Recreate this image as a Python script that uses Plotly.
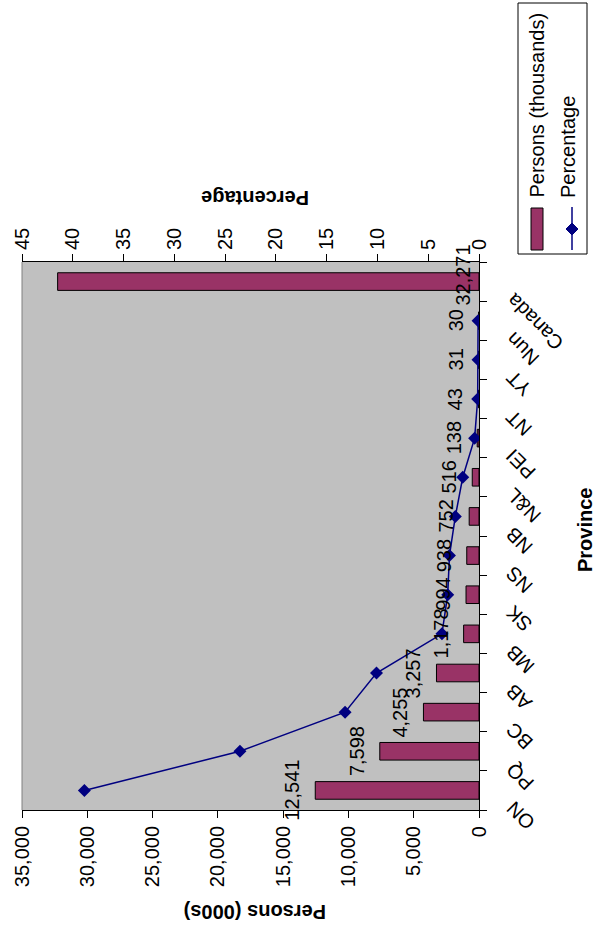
import plotly.graph_objects as go

provinces = ["ON", "PQ", "BC", "AB", "MB", "SK", "NS", "NB", "N&L", "PEI", "NT", "YT", "Nun", "Canada"]
persons = [12541, 7598, 4255, 3257, 1178, 994, 938, 752, 516, 138, 43, 31, 30, 32271]
percentage = [38.86, 23.54, 13.19, 10.09, 3.65, 3.08, 2.91, 2.33, 1.60, 0.43, 0.13, 0.10, 0.09]
persons_ticks = [0, 5000, 10000, 15000, 20000, 25000, 30000, 35000]
pct_ticks = [0, 5, 10, 15, 20, 25, 30, 35, 40, 45]

# page body margin is removed (post_script), so figure pixels == page pixels
W, H = 599, 932
L, T = 22, 262
R = W - 479
B = H - 810
pw = W - L - R
ph = H - T - B


def px(x):
    return (x - L) / pw


def py(y):
    return (H - B - y) / ph


FONT = "Liberation Sans, Arial, sans-serif"
BAR = "#993366"
NAVY = "#000080"

fig = go.Figure()
fig.add_trace(go.Bar(
    x=persons, y=provinces, orientation="h", xaxis="x", yaxis="y",
    marker=dict(color=BAR, line=dict(color="black", width=1)),
    width=0.45, name="Persons (thousands)", hoverinfo="x+y",
))
fig.add_trace(go.Scatter(
    x=percentage, y=provinces[:len(percentage)], xaxis="x2", yaxis="y",
    mode="lines+markers", line=dict(color=NAVY, width=1.5),
    marker=dict(symbol="diamond", size=10, color=NAVY),
    name="Percentage",
))


def txt(**kw):
    d = dict(showarrow=False, font=dict(size=20, color="black", family=FONT))
    d.update(kw)
    return d


ann = []
# bar value labels
for p, v in zip(provinces, persons):
    if p == "Canada":
        ann.append(txt(x=0, y=p, xref="x", yref="y", text=f"{v:,}", textangle=-90,
                       xanchor="right", yanchor="middle", xshift=-3, yshift=6))
    else:
        ann.append(txt(x=v, y=p, xref="x", yref="y", text=f"{v:,}", textangle=-90,
                       xanchor="right", yanchor="middle", xshift=-10))
# category labels
for p in provinces:
    ann.append(txt(x=px(499), y=p, xref="paper", yref="y", text=p, textangle=-135,
                   xanchor="left", yanchor="top", yshift=-4))
# axis titles
ann.append(txt(x=px(255), y=py(912), xref="paper", yref="paper", text="<b>Persons (000s)</b>",
               textangle=180, xanchor="center", yanchor="middle"))
ann.append(txt(x=px(255), y=py(198), xref="paper", yref="paper", text="<b>Percentage</b>",
               textangle=180, xanchor="center", yanchor="middle"))
ann.append(txt(x=px(585), y=py(530), xref="paper", yref="paper", text="<b>Province</b>",
               textangle=-90, xanchor="center", yanchor="middle"))
# legend texts
ann.append(txt(x=px(536), y=py(200), xref="paper", yref="paper", text="Persons (thousands)",
               textangle=-90, xanchor="center", yanchor="bottom"))
ann.append(txt(x=px(568), y=py(200), xref="paper", yref="paper", text="Percentage",
               textangle=-90, xanchor="center", yanchor="bottom"))

shapes = [
    # left plot border
    dict(type="line", xref="paper", yref="paper", x0=0, x1=0, y0=0, y1=1,
         line=dict(color="#808080", width=1)),
    # legend box
    dict(type="rect", xref="paper", yref="paper", x0=px(518), x1=px(587), y0=py(254), y1=py(3),
         line=dict(color="black", width=1), fillcolor="white"),
    # bar swatch
    dict(type="rect", xref="paper", yref="paper", x0=px(531), x1=px(543), y0=py(250), y1=py(208),
         line=dict(color="black", width=1), fillcolor=BAR),
    # line swatch
    dict(type="line", xref="paper", yref="paper", x0=px(572), x1=px(572), y0=py(250), y1=py(207),
         line=dict(color=NAVY, width=1.5)),
    dict(type="path", xref="paper", yref="paper",
         path=f"M {px(572)},{py(223)} L {px(578)},{py(229)} L {px(572)},{py(235)} L {px(566)},{py(229)} Z",
         fillcolor=NAVY, line=dict(color=NAVY, width=1)),
]

fig.update_layout(
    width=W, height=H, autosize=False,
    margin=dict(l=L, r=R, t=T, b=B, pad=0, autoexpand=False),
    paper_bgcolor="white", plot_bgcolor="#C0C0C0",
    showlegend=False,
    font=dict(family=FONT, size=20, color="black"),
    xaxis=dict(range=[35000, 0], tickvals=persons_ticks, tickformat=",", tickangle=-90,
               showgrid=False, zeroline=False, showline=True, linecolor="black", linewidth=1,
               ticks="outside", ticklen=7, tickcolor="black", side="bottom", automargin=False,
               tickfont=dict(size=20, family=FONT)),
    xaxis2=dict(range=[45, 0], tickvals=pct_ticks, tickangle=-90, overlaying="x", side="top",
                showgrid=False, zeroline=False, showline=True, linecolor="black", linewidth=1,
                ticks="outside", ticklen=7, tickcolor="black", automargin=False,
                tickfont=dict(size=20, family=FONT)),
    yaxis=dict(type="category", categoryorder="array", categoryarray=provinces,
               range=[-0.5, len(provinces) - 0.5], side="right", showticklabels=False,
               showgrid=False, zeroline=False, showline=True, linecolor="black", linewidth=1,
               ticks="outside", tickson="boundaries", ticklen=7, tickcolor="black",
               automargin=False),
    annotations=ann,
    shapes=shapes,
)

fig.write_html("out.html", config={"displayModeBar": False},
               post_script="document.body.style.margin='0px';")
